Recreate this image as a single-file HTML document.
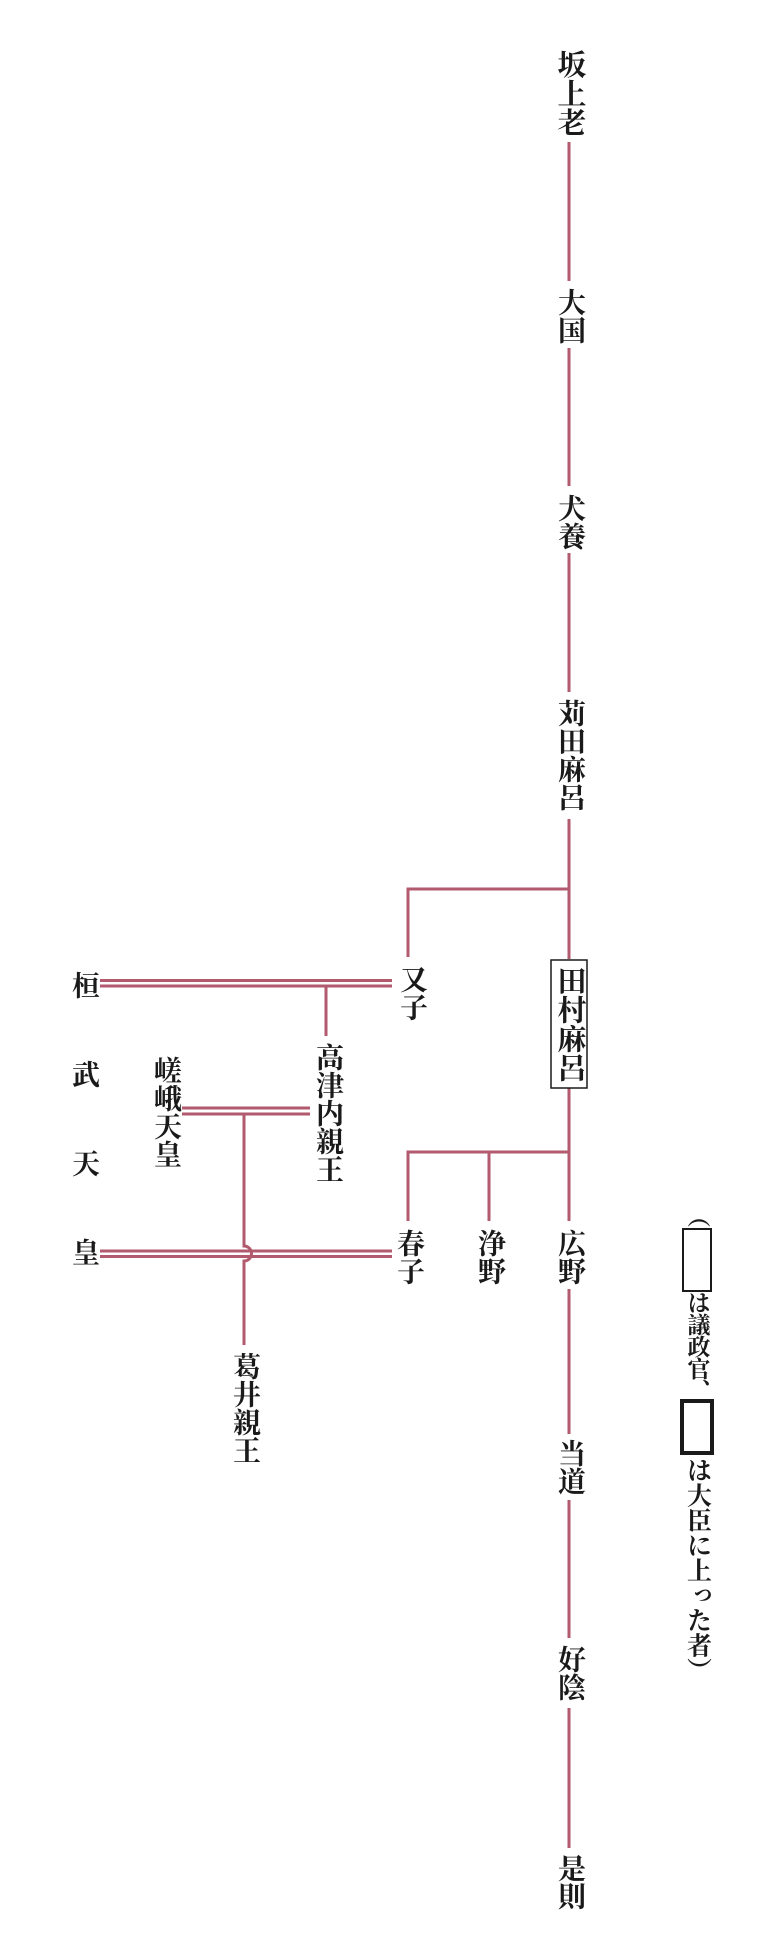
<!DOCTYPE html>
<html><head><meta charset="utf-8"><style>
html,body{margin:0;padding:0;background:#fff;}
body{width:768px;height:1949px;position:relative;overflow:hidden;font-family:"Liberation Serif","Noto Serif CJK SC",serif;color:#1a1a1a;}
.t{position:absolute;writing-mode:vertical-rl;font-size:28px;line-height:1;font-weight:bold;transform:translate(-50%,-50%);white-space:nowrap;}
.s{font-size:23px;font-weight:bold;}
svg{position:absolute;left:0;top:0;}
</style></head><body>
<svg width="768" height="1949" viewBox="0 0 768 1949">
<g stroke="#b25a6e" stroke-width="3" fill="none">
<line x1="569" y1="142" x2="569" y2="281"/>
<line x1="569" y1="348" x2="569" y2="486"/>
<line x1="569" y1="553" x2="569" y2="692"/>
<line x1="569" y1="819" x2="569" y2="959"/>
<line x1="569" y1="1088" x2="569" y2="1221"/>
<line x1="569" y1="1289" x2="569" y2="1434"/>
<line x1="569" y1="1500" x2="569" y2="1638"/>
<line x1="569" y1="1708" x2="569" y2="1848"/>
<polyline points="569,889 408,889 408,957"/>
<polyline points="569,1152 408,1152 408,1221"/>
<line x1="489" y1="1152" x2="489" y2="1221"/>
<line x1="100" y1="980.5" x2="392" y2="980.5"/>
<line x1="100" y1="986" x2="392" y2="986"/>
<line x1="326" y1="986" x2="326" y2="1036"/>
<line x1="182" y1="1108" x2="310" y2="1108"/>
<line x1="182" y1="1114" x2="310" y2="1114"/>
<line x1="100" y1="1251" x2="392" y2="1251"/>
<line x1="100" y1="1256.5" x2="392" y2="1256.5"/>
<path d="M244 1114 V1246 A7.5 7.5 0 0 1 244 1261 V1345"/>
</g>
<rect x="551" y="960" width="36" height="128" fill="none" stroke="#1a1a1a" stroke-width="1.5"/>
<rect x="683" y="1229" width="28" height="62" fill="none" stroke="#1a1a1a" stroke-width="2"/>
<rect x="682" y="1401" width="30" height="52" fill="none" stroke="#1a1a1a" stroke-width="4"/>
</svg>
<div class="t" style="left:569px;top:93px;font-size:29px">坂上老</div>
<div class="t" style="left:569px;top:316px">大国</div>
<div class="t" style="left:569px;top:522px">犬養</div>
<div class="t" style="left:569px;top:755px">苅田麻呂</div>
<div class="t" style="left:569px;top:1024px;font-size:29px">田村麻呂</div>
<div class="t" style="left:411px;top:993px">又子</div>
<div class="t" style="left:327px;top:1113px">高津内親王</div>
<div class="t" style="left:165px;top:1112px">嵯峨天皇</div>
<div class="t" style="left:83px;top:985px">桓</div>
<div class="t" style="left:83px;top:1074px">武</div>
<div class="t" style="left:83px;top:1163px">天</div>
<div class="t" style="left:83px;top:1252px">皇</div>
<div class="t" style="left:408px;top:1257px">春子</div>
<div class="t" style="left:489px;top:1257px">浄野</div>
<div class="t" style="left:569px;top:1257px">広野</div>
<div class="t" style="left:244px;top:1408px">葛井親王</div>
<div class="t" style="left:569px;top:1467px">当道</div>
<div class="t" style="left:569px;top:1673px">好陰</div>
<div class="t" style="left:569px;top:1882px">是則</div>
<div class="t s" style="left:697px;top:1216px">（</div>
<div class="t s" style="left:697px;top:1346px;letter-spacing:-1px">は議政官、</div>
<div class="t s" style="left:697px;top:1570px;font-size:25px">は大臣に上った者）</div>
</body></html>
